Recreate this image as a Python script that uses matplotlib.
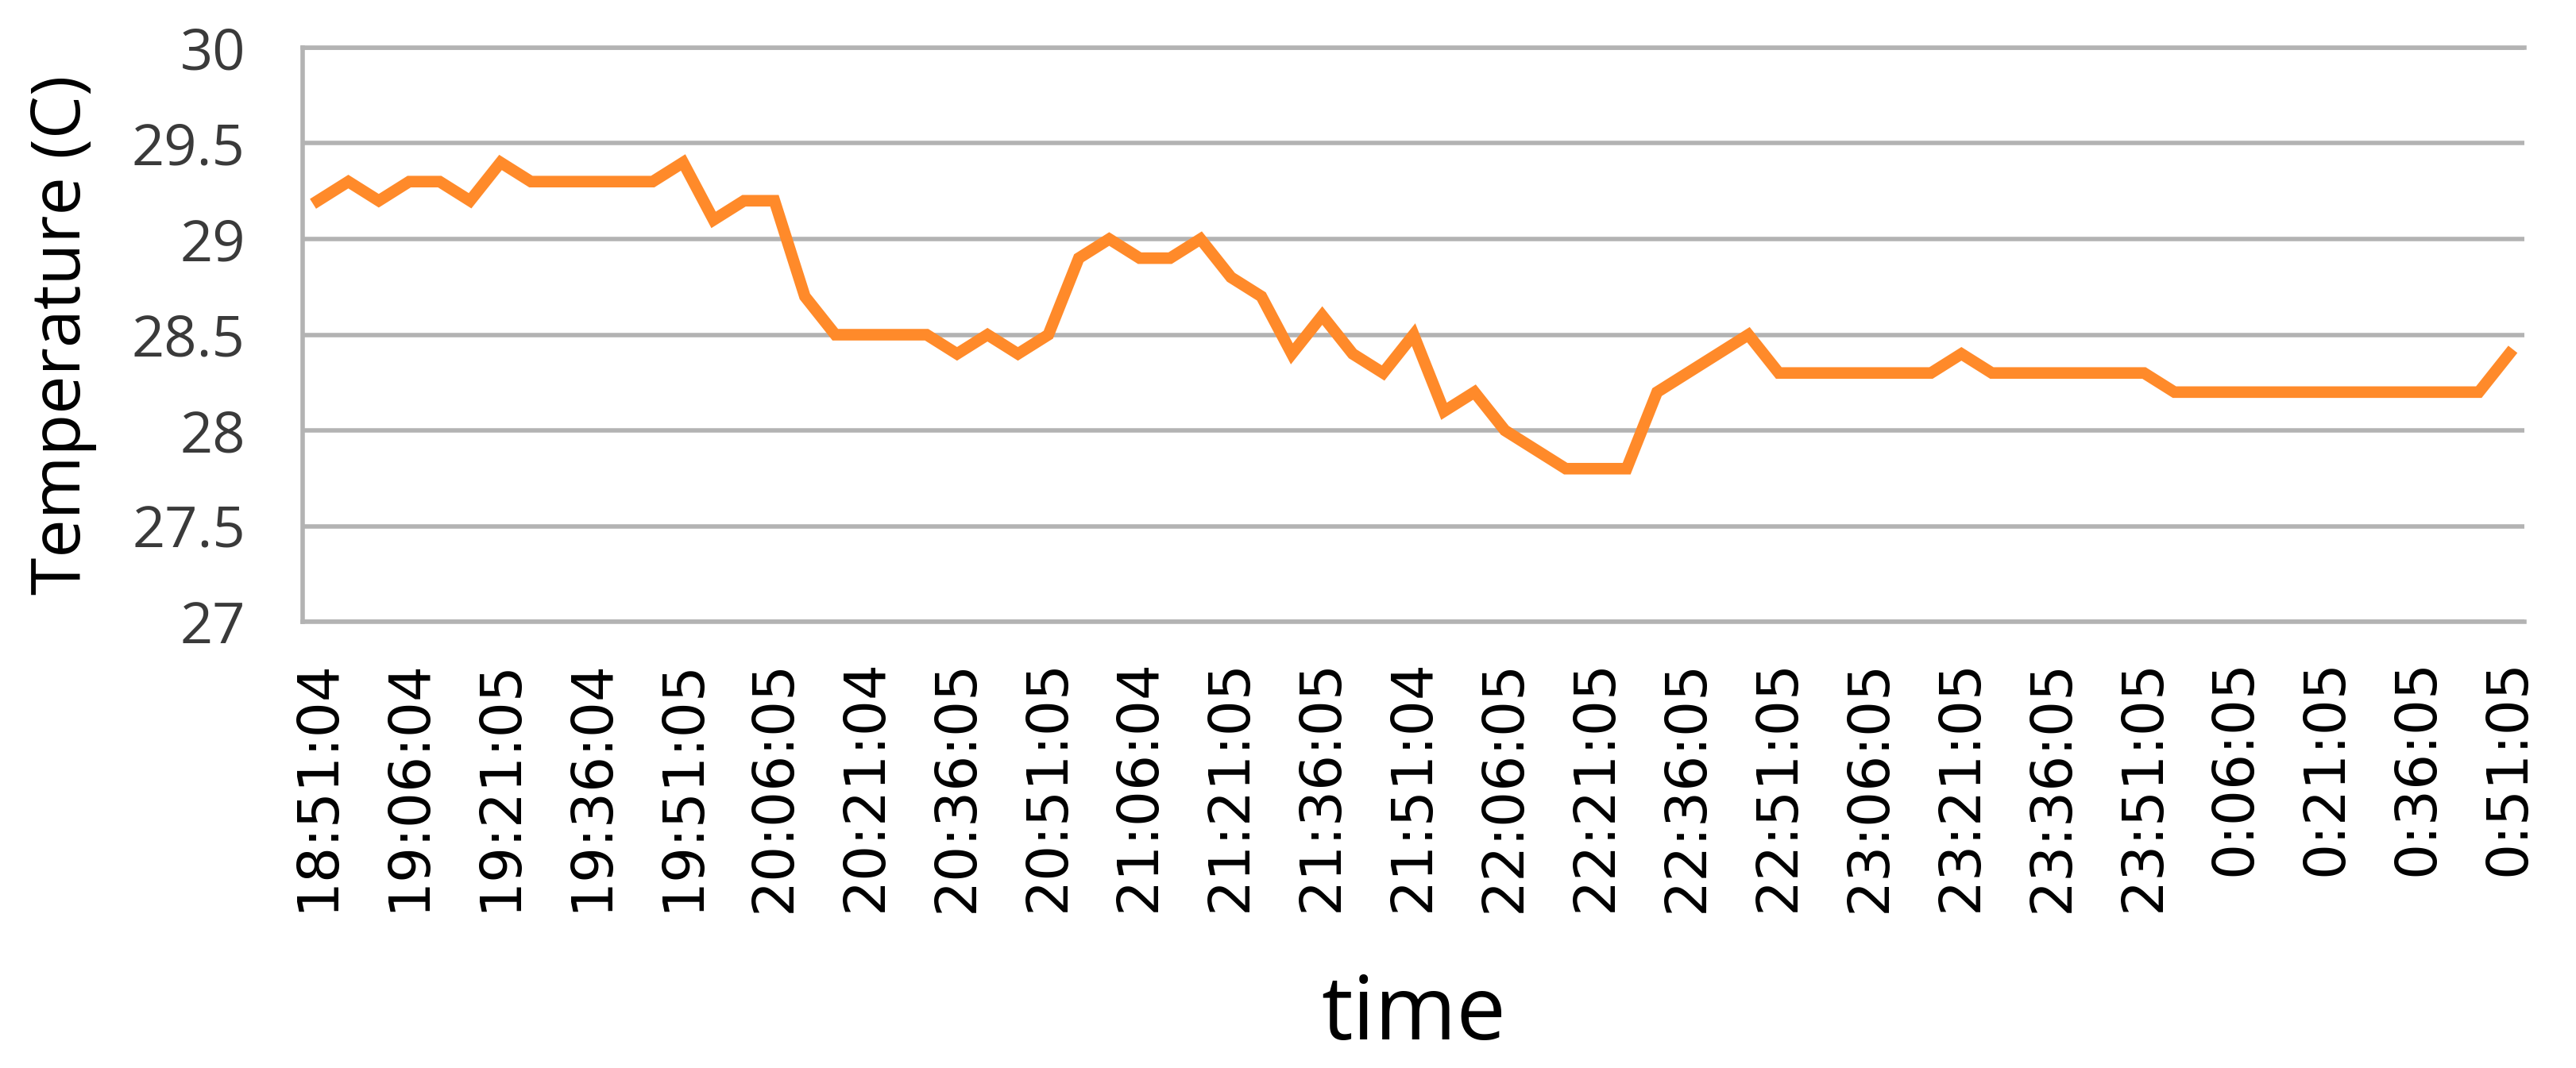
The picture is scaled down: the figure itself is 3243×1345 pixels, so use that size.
import matplotlib
matplotlib.use("Agg")
import matplotlib.pyplot as plt
import numpy as np

# temperature readings (C), one every ~5 minutes from 18:51 to 0:51
temps = [29.2, 29.3, 29.2, 29.3, 29.3, 29.2, 29.4, 29.3, 29.3, 29.3,
         29.3, 29.3, 29.4, 29.1, 29.2, 29.2, 28.7, 28.5, 28.5, 28.5,
         28.5, 28.4, 28.5, 28.4, 28.5, 28.9, 29.0, 28.9, 28.9, 29.0,
         28.8, 28.7, 28.4, 28.6, 28.4, 28.3, 28.5, 28.1, 28.2, 28.0,
         27.9, 27.8, 27.8, 27.8, 28.2, 28.3, 28.4, 28.5, 28.3, 28.3,
         28.3, 28.3, 28.3, 28.3, 28.4, 28.3, 28.3, 28.3, 28.3, 28.3,
         28.3, 28.2, 28.2, 28.2, 28.2, 28.2, 28.2, 28.2, 28.2, 28.2,
         28.2, 28.2, 28.4]

# category labels shown on the axis (every third reading)
time_labels = ['18:51:04', '19:06:04', '19:21:05', '19:36:04', '19:51:05',
               '20:06:05', '20:21:04', '20:36:05', '20:51:05', '21:06:04',
               '21:21:05', '21:36:05', '21:51:04', '22:06:05', '22:21:05',
               '22:36:05', '22:51:05', '23:06:05', '23:21:05', '23:36:05',
               '23:51:05', '0:06:05', '0:21:05', '0:36:05', '0:51:05']

y_ticks = [27, 27.5, 28, 28.5, 29, 29.5, 30]
y_tick_labels = ['27', '27.5', '28', '28.5', '29', '29.5', '30']

grid_col = '#b3b3b3'

fig = plt.figure(figsize=(32.43, 13.45), dpi=100)
ax = fig.add_axes([0.1175, 0.4178, 0.8625, 0.5376])

x = np.arange(len(temps))
ax.plot(x, temps, color='#ff8a2a', linewidth=10.5, solid_joinstyle='miter')

ax.set_xlim(-0.5, len(temps) - 0.5)
ax.set_ylim(27, 30)

ax.set_yticks(y_ticks)
ax.set_yticklabels(y_tick_labels, fontfamily='Open Sans', fontsize=52, color='#3a3a3a')
ax.set_xticks(x[::3])
ax.set_xticklabels(time_labels, rotation=90, fontfamily='DejaVu Sans', fontsize=51, color='black')
ax.tick_params(axis='both', length=0)
ax.tick_params(axis='y', pad=52)
ax.tick_params(axis='x', pad=34)

ax.yaxis.grid(True, color=grid_col, linewidth=4)
ax.set_axisbelow(True)
for side in ['left', 'top', 'bottom']:
    ax.spines[side].set_color(grid_col)
    ax.spines[side].set_linewidth(4)
ax.spines['right'].set_visible(False)

ax.set_ylabel('Temperature (C)', fontfamily='Open Sans', fontsize=62, labelpad=32)
ax.set_xlabel('time', fontfamily='Open Sans', fontsize=80, labelpad=54)

fig.savefig('out.png', dpi=100)
